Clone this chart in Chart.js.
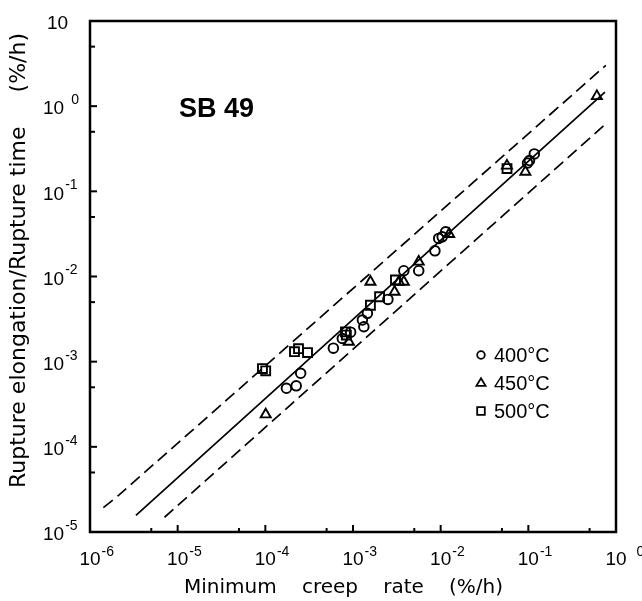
<!DOCTYPE html>
<html><head><meta charset="utf-8">
<script src="https://cdn.jsdelivr.net/npm/chart.js@4.4.1/dist/chart.umd.min.js"></script>
<style>html,body{margin:0;padding:0;background:#fff;} #wrap{width:642px;height:601px;}</style>
</head><body><div id="wrap"><canvas id="c" width="642" height="601"></canvas></div>
<script>
// ---- data ----
const xTickExponents = [-6, -5, -4, -3, -2, -1, 0];
const yTickExponents = [-5, -4, -3, -2, -1, 0, 1];
const seriesLabels = ['400°C', '450°C', '500°C'];

const creep400 = [1.74e-4, 2.25e-4, 2.53e-4, 5.97e-4, 7.55e-4, 9.4e-4, 1.28e-3, 1.33e-3, 1.46e-3, 2.5e-3, 3.8e-3, 5.62e-3, 8.6e-3, 9.5e-3, 1.04e-2, 1.14e-2, 9.8e-2, 1.03e-1, 1.17e-1];
const ratio400 = [4.87e-4, 5.2e-4, 7.3e-4, 1.44e-3, 1.87e-3, 2.22e-3, 3.08e-3, 2.57e-3, 3.69e-3, 5.38e-3, 1.17e-2, 1.17e-2, 2.0e-2, 2.8e-2, 2.92e-2, 3.35e-2, 0.215, 0.23, 0.275];

const creep450 = [1.01e-4, 8.97e-4, 1.58e-3, 2.98e-3, 3.34e-3, 3.8e-3, 5.62e-3, 1.25e-2, 5.7e-2, 9.25e-2, 0.605];
const ratio450 = [2.4e-4, 1.71e-3, 8.67e-3, 6.6e-3, 8.67e-3, 8.67e-3, 1.49e-2, 3.15e-2, 0.2, 0.169, 1.31];

const creep500 = [9.27e-5, 1.01e-4, 2.15e-4, 2.39e-4, 3.03e-4, 8.2e-4, 8.4e-4, 1.58e-3, 2.01e-3, 3.05e-3, 5.71e-2];
const ratio500 = [8.3e-4, 7.8e-4, 1.31e-3, 1.42e-3, 1.28e-3, 2.24e-3, 2.05e-3, 4.6e-3, 5.78e-3, 9.1e-3, 0.185];

const fitSolidX = [3.34e-6, 0.748];
const fitSolidY = [1.57e-5, 1.46];
const bandUpperX = [1.42e-6, 2.18e-6, 0.766];
const bandUpperY = [1.93e-5, 2.77e-5, 3.02];
const bandLowerX = [7.08e-6, 0.748];
const bandLowerY = [1.49e-5, 0.607];

const panelTitle = 'SB 49';
const xTitleWords = ['Minimum', 'creep', 'rate', '(%/h)'];
const yTitle = 'Rupture elongation/Rupture time';
const unitText = '(%/h)';

// ---- build ----
const pts = (xs, ys) => xs.map((x, i) => ({x: x, y: ys[i]}));
const styles = ['circle', 'triangle', 'rect'];
const radii = [4.8, 5.8, 6.3];

function markerDataset(label, xs, ys, k) {
  return {label: label, data: pts(xs, ys), showLine: false, pointStyle: styles[k],
    pointRadius: radii[k], pointHoverRadius: radii[k], pointBorderWidth: 1.9,
    pointBorderColor: '#000', pointBackgroundColor: 'rgba(0,0,0,0)'};
}
function lineDataset(label, xs, ys, dash) {
  return {label: label, data: pts(xs, ys), showLine: true, pointRadius: 0,
    borderColor: '#000', borderWidth: 1.7, borderDash: dash, fill: false, tension: 0.3};
}

function drawMarker(ctx, style, x, y, r) {
  ctx.beginPath();
  if (style === 'circle') { ctx.arc(x, y, r, 0, Math.PI * 2); }
  else if (style === 'triangle') {
    ctx.moveTo(x, y - r); ctx.lineTo(x + r * 0.95, y + r * 0.6); ctx.lineTo(x - r * 0.95, y + r * 0.6); ctx.closePath();
  } else { ctx.rect(x - r, y - r, 2 * r, 2 * r); }
  ctx.stroke();
}

const decor = {
  id: 'decor',
  afterDatasetsDraw(chart) {
    const ctx = chart.ctx, a = chart.chartArea, xs = chart.scales.x, ys = chart.scales.y;
    ctx.save();
    ctx.strokeStyle = '#000'; ctx.fillStyle = '#000';
    // frame
    ctx.lineWidth = 2.5;
    ctx.strokeRect(a.left, a.top, a.right - a.left, a.bottom - a.top);
    // ticks
    ctx.lineWidth = 2;
    xTickExponents.forEach(e => {
      const p = xs.getPixelForValue(Math.pow(10, e));
      ctx.beginPath(); ctx.moveTo(p, a.bottom); ctx.lineTo(p, a.bottom - 7); ctx.stroke();
      if (e < 0) {
        const m = xs.getPixelForValue(5 * Math.pow(10, e));
        ctx.beginPath(); ctx.moveTo(m, a.bottom); ctx.lineTo(m, a.bottom - 4); ctx.stroke();
      }
    });
    yTickExponents.forEach(e => {
      const p = ys.getPixelForValue(Math.pow(10, e));
      ctx.beginPath(); ctx.moveTo(a.left, p); ctx.lineTo(a.left + 7, p); ctx.stroke();
      if (e < 1) {
        const m = ys.getPixelForValue(5 * Math.pow(10, e));
        ctx.beginPath(); ctx.moveTo(a.left, m); ctx.lineTo(a.left + 5, m); ctx.stroke();
      }
    });
    // tick labels
    const big = '19px "Liberation Sans"', small = '14px "Liberation Sans"';
    ctx.textBaseline = 'middle';
    xTickExponents.forEach(e => {
      const p = xs.getPixelForValue(Math.pow(10, e));
      ctx.font = big; ctx.textAlign = 'center';
      ctx.fillText('10', p, a.bottom + 28);
      const w = ctx.measureText('10').width;
      ctx.font = small; ctx.textAlign = 'left';
      ctx.fillText(e === 0 ? '0' : '-' + Math.abs(e), p + w / 2 + (e === 0 ? 10 : 1), a.bottom + 20);
    });
    yTickExponents.forEach(e => {
      const p = ys.getPixelForValue(Math.pow(10, e));
      ctx.font = big; ctx.textAlign = 'left';
      if (e === 1) { ctx.fillText('10', 47, p + 3); return; }
      ctx.fillText('10', 43, p + 3);
      const w = ctx.measureText('10').width;
      ctx.font = small;
      ctx.fillText(e === 0 ? '0' : '-' + Math.abs(e), 43 + w + (e === 0 ? 7 : 1), p - 6);
    });
    // axis titles (words spread evenly between x=184 and x=503)
    ctx.font = '20px "DejaVu Sans"'; ctx.textAlign = 'left';
    const widths = xTitleWords.map(w => ctx.measureText(w).width);
    const gap = (503 - 184 - widths.reduce((s, v) => s + v, 0)) / (xTitleWords.length - 1);
    let cx = 184;
    xTitleWords.forEach((w, i) => { ctx.fillText(w, cx, 588); cx += widths[i] + gap; });
    ctx.save();
    ctx.translate(19, 488); ctx.rotate(-Math.PI / 2);
    ctx.font = '22px "DejaVu Sans"';
    ctx.textAlign = 'left';
    ctx.fillText(yTitle, 0, 0);
    ctx.textAlign = 'right';
    ctx.fillText(unitText, 488 - 33, 0);
    ctx.restore();
    // panel title
    ctx.font = 'bold 27px "Liberation Sans"'; ctx.textAlign = 'left';
    ctx.fillText(panelTitle, 179, 110);
    // legend
    const markerSets = chart.data.datasets.slice(0, 3);
    ctx.lineWidth = 1.8;
    markerSets.forEach((ds, k) => {
      const yy = 355 + k * 28;
      drawMarker(ctx, styles[k], 481, yy, [3.8, 4.8, 3.8][k]);
      ctx.font = '20px "Liberation Sans"'; ctx.textAlign = 'left';
      ctx.fillText(ds.label, 494, yy + 1);
    });
    ctx.restore();
  }
};

new Chart(document.getElementById('c'), {
  type: 'scatter',
  data: {datasets: [
    markerDataset(seriesLabels[0], creep400, ratio400, 0),
    markerDataset(seriesLabels[1], creep450, ratio450, 1),
    markerDataset(seriesLabels[2], creep500, ratio500, 2),
    lineDataset('mean', fitSolidX, fitSolidY, []),
    lineDataset('upper', bandUpperX, bandUpperY, [12, 6]),
    lineDataset('lower', bandLowerX, bandLowerY, [12, 6])
  ]},
  options: {
    responsive: false, animation: false, devicePixelRatio: 1,
    layout: {padding: {left: 90, top: 21, right: 26, bottom: 69}},
    plugins: {legend: {display: false}, tooltip: {enabled: false}},
    scales: {
      x: {type: 'logarithmic', min: 1e-6, max: 1, display: false},
      y: {type: 'logarithmic', min: 1e-5, max: 10, display: false}
    }
  },
  plugins: [decor]
});
</script></body></html>
